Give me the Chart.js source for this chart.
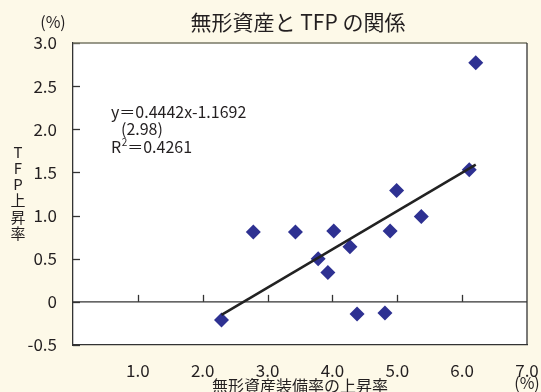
<!DOCTYPE html>
<html>
<head>
<meta charset="utf-8">
<script src="https://cdn.jsdelivr.net/npm/chart.js@4"></script>
<style>
  html, body { margin: 0; padding: 0; background: #fdf9e8; }
  #wrap { width: 541px; height: 392px; }
</style>
</head>
<body>
<div id="wrap"><canvas id="chart" width="541" height="392"></canvas></div>
<script>
// intangible capital per worker growth (%) vs TFP growth (%)
const assetGrowth = [2.29, 2.78, 3.43, 3.78, 3.93, 4.02, 4.27, 4.38, 4.81, 4.89, 4.99, 5.37, 6.11, 6.21];
const tfpGrowth   = [-0.21, 0.81, 0.81, 0.50, 0.34, 0.82, 0.64, -0.14, -0.13, 0.82, 1.29, 0.99, 1.53, 2.77];

// fitted line endpoints
const trendX = [2.29, 6.21];
const trendY = [-0.15, 1.59];

const titleText = '無形資産と TFP の関係';
const yTitle = 'TFP上昇率';
const xTitle = '無形資産装備率の上昇率';
const fitLines = ['y＝0.4442x-1.1692', '(2.98)', '＝0.4261'];

const FONT = '"Noto Sans CJK JP", "Noto Sans", sans-serif';
const INK = '#333333';
const TEXT = '#231f20';

const decor = {
  id: 'decor',
  beforeDraw(chart) {
    const { ctx, chartArea: a } = chart;
    ctx.save();
    ctx.fillStyle = '#ffffff';
    ctx.fillRect(a.left, a.top, a.right - a.left, a.bottom - a.top);
    ctx.restore();
  },
  beforeDatasetsDraw(chart) {
    const { ctx, chartArea: a, scales: { x, y } } = chart;
    const y0 = y.getPixelForValue(0);
    ctx.save();
    ctx.strokeStyle = INK;
    ctx.lineWidth = 1.3;
    // zero line
    ctx.beginPath();
    ctx.moveTo(a.left, y0);
    ctx.lineTo(a.right, y0);
    ctx.stroke();
    // x ticks sit on the zero line, pointing up
    x.ticks.forEach(t => {
      if (t.value <= 0 || t.value >= 7) return;
      const px = Math.round(x.getPixelForValue(t.value)) + 0.5;
      ctx.beginPath();
      ctx.moveTo(px, y0);
      ctx.lineTo(px, y0 - 7);
      ctx.stroke();
    });
    // y ticks point inward
    y.ticks.forEach(t => {
      const py = Math.round(y.getPixelForValue(t.value)) + 0.5;
      ctx.beginPath();
      ctx.moveTo(a.left, py);
      ctx.lineTo(a.left + 7, py);
      ctx.stroke();
    });
    // top and right frame
    ctx.strokeStyle = '#777766';
    ctx.beginPath();
    ctx.moveTo(a.left, a.top);
    ctx.lineTo(a.right, a.top);
    ctx.stroke();
    ctx.strokeStyle = INK;
    ctx.beginPath();
    ctx.moveTo(a.right, a.top);
    ctx.lineTo(a.right, a.bottom);
    ctx.stroke();
    ctx.restore();
  },
  afterDraw(chart) {
    const { ctx } = chart;
    ctx.save();
    ctx.fillStyle = TEXT;
    ctx.textBaseline = 'middle';

    ctx.font = '21px ' + FONT;
    ctx.textAlign = 'center';
    ctx.fillText(titleText, 298, 22);

    ctx.font = '16px ' + FONT;
    ctx.fillText('(%)', 53, 22);
    ctx.fillText('(%)', 527, 383);
    ctx.fillText(xTitle, 300, 386);

    // vertical axis title, one glyph per row
    ctx.font = '15px ' + FONT;
    [...yTitle].forEach((ch, i) => ctx.fillText(ch, 18, 152 + i * 16.2));

    // regression note
    ctx.font = '16px ' + FONT;
    ctx.textAlign = 'left';
    ctx.fillText(fitLines[0], 111, 112);
    ctx.fillText(fitLines[1], 121, 129);
    ctx.fillText('R', 111, 147);
    let cx = 111 + ctx.measureText('R').width;
    ctx.font = '10px ' + FONT;
    ctx.fillText('2', cx + 0.5, 142);
    cx += ctx.measureText('2').width + 0.5;
    ctx.font = '16px ' + FONT;
    ctx.fillText(fitLines[2], cx, 147);
    ctx.restore();
  }
};

new Chart(document.getElementById('chart'), {
  type: 'scatter',
  data: {
    datasets: [
      {
        type: 'line',
        data: trendX.map((v, i) => ({ x: v, y: trendY[i] })),
        borderColor: '#222222',
        borderWidth: 2.5,
        pointRadius: 0,
        fill: false
      },
      {
        data: assetGrowth.map((v, i) => ({ x: v, y: tfpGrowth[i] })),
        pointStyle: 'rectRot',
        pointRadius: 7.5,
        pointHoverRadius: 7.5,
        backgroundColor: '#2e3192',
        borderWidth: 0
      }
    ]
  },
  options: {
    responsive: false,
    animation: false,
    layout: { padding: { left: 0, right: 14, top: 43, bottom: 0 } },
    plugins: { legend: { display: false }, tooltip: { enabled: false } },
    scales: {
      x: {
        type: 'linear',
        min: 0,
        max: 7,
        grid: { display: false },
        border: { display: true, color: INK, width: 1.3 },
        ticks: {
          stepSize: 1,
          padding: 7,
          color: TEXT,
          font: { family: FONT, size: 17 },
          callback: v => (v === 0 ? '' : v.toFixed(1))
        },
        afterFit: s => { s.height = 47; s.paddingLeft = 0; s.paddingRight = 0; }
      },
      y: {
        min: -0.5,
        max: 3,
        grid: { display: false },
        border: { display: true, color: INK, width: 1.3 },
        ticks: {
          stepSize: 0.5,
          padding: 8,
          color: TEXT,
          font: { family: FONT, size: 17 },
          callback: v => (v === 0 ? '0' : v.toFixed(1))
        },
        afterFit: s => { s.width = 73; s.paddingTop = 0; s.paddingBottom = 0; }
      }
    }
  },
  plugins: [decor]
});
</script>
</body>
</html>
